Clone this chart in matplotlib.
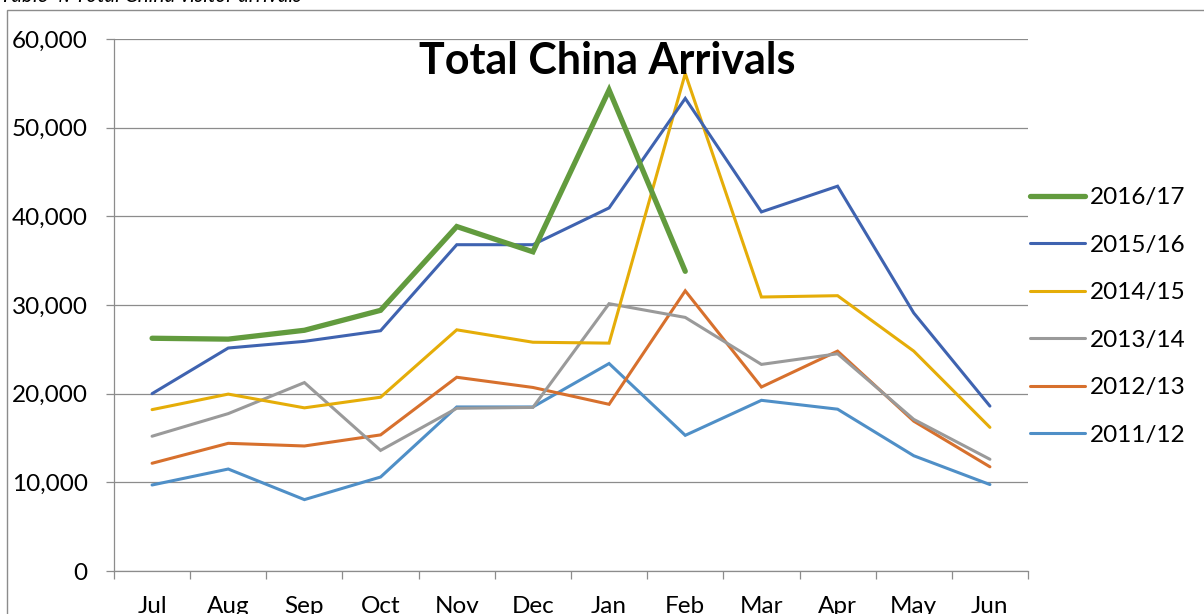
import matplotlib
matplotlib.use("Agg")
import matplotlib.pyplot as plt
from matplotlib.patches import Rectangle
from matplotlib.ticker import FuncFormatter, FixedLocator

plt.rcParams["font.family"] = ["Lato", "DejaVu Sans"]

# ---------- data ----------
months = ["Jul", "Aug", "Sep", "Oct", "Nov", "Dec", "Jan", "Feb", "Mar", "Apr", "May", "Jun"]
fy_1112 = [9700, 11500, 8050, 10600, 18500, 18500, 23400, 15300, 19250, 18250, 13000, 9750]
fy_1213 = [12150, 14400, 14100, 15350, 21850, 20700, 18800, 31600, 20750, 24800, 16900, 11750]
fy_1314 = [15200, 17750, 21250, 13600, 18350, 18450, 30150, 28600, 23300, 24500, 17100, 12600]
fy_1415 = [18200, 19950, 18400, 19600, 27200, 25800, 25700, 56100, 30900, 31050, 24800, 16200]
fy_1516 = [20000, 25150, 25900, 27100, 36800, 36800, 40950, 53300, 40500, 43400, 29100, 18600]
fy_1617 = [26250, 26150, 27150, 29400, 38850, 36000, 54250, 33800]

series = [
    ("2011/12", fy_1112, "#4f8fc7", 2.2),
    ("2012/13", fy_1213, "#d7702d", 2.2),
    ("2013/14", fy_1314, "#9a9a9a", 2.2),
    ("2014/15", fy_1415, "#e5ad08", 2.2),
    ("2015/16", fy_1516, "#3f63b0", 2.2),
    ("2016/17", fy_1617, "#629b3e", 3.8),
]

W, H = 1204, 614
fig = plt.figure(figsize=(W / 100, H / 100), dpi=100)
ax = fig.add_axes([114 / W, 1 - 571 / H, (1028 - 114) / W, (571 - 39) / H])

handles = []
for name, vals, col, lw in series:
    ln, = ax.plot(range(len(vals)), vals, color=col, lw=lw, solid_capstyle="round",
                  solid_joinstyle="miter", label=name)
    handles.append(ln)

ax.set_xlim(-0.5, 11.5)
ax.set_ylim(0, 60000)
ax.set_yticks(range(0, 60001, 10000))
ax.yaxis.set_major_formatter(FuncFormatter(lambda v, p: f"{int(v):,}"))
ax.grid(axis="y", color="#8c8c8c", lw=0.9)
ax.set_axisbelow(True)

# ticks between categories, labels in the middle
ax.xaxis.set_major_locator(FixedLocator([i - 0.5 for i in range(13)]))
ax.xaxis.set_minor_locator(FixedLocator(range(12)))
ax.set_xticklabels([], minor=False)
ax.set_xticklabels(months, minor=True)
ax.tick_params(axis="x", which="major", length=6, color="#8c8c8c", width=0.9)
ax.tick_params(axis="x", which="minor", length=0, pad=18, labelsize=17.5)
ax.tick_params(axis="y", length=6, color="#8c8c8c", width=0.9, pad=13, labelsize=17.5)

for s in ["top", "right"]:
    ax.spines[s].set_visible(False)
for s in ["left", "bottom"]:
    ax.spines[s].set_color("#8c8c8c")
    ax.spines[s].set_linewidth(0.9)

fig.text(607 / W, 1 - 61 / H, "Total China Arrivals", fontsize=31, fontweight="bold",
         ha="center", va="center")

leg = fig.legend(handles[::-1], [h.get_label() for h in handles[::-1]],
                 loc="upper left", bbox_to_anchor=(1030 / W, 1 - 187 / H),
                 frameon=False, fontsize=17.5, handlelength=2.25, handletextpad=0.2,
                 labelspacing=1.09, borderpad=0, borderaxespad=0)

# caption above the chart (cut off in the source)
fig.text(0, 1 - 2 / H, "Table 4: Total China visitor arrivals", fontsize=15,
         style="italic", va="baseline", ha="left")

# chart frame
fig.patches.append(Rectangle((7 / W, -0.1), 1.2, 1 - 10 / H + 0.1, transform=fig.transFigure,
                             fill=False, edgecolor="#8c8c8c", lw=1.0))

fig.savefig("out.png", dpi=100)
